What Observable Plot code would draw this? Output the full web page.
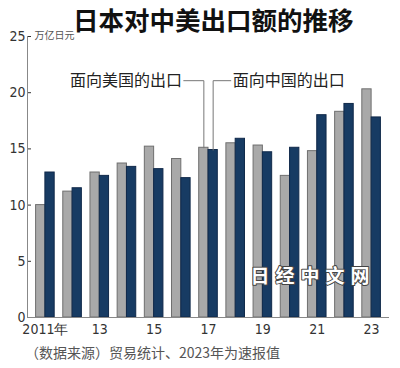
<!DOCTYPE html>
<html><head><meta charset="utf-8">
<script src="https://cdn.jsdelivr.net/npm/d3@7"></script>
<script src="https://cdn.jsdelivr.net/npm/@observablehq/plot@0.6"></script>
<style>
html,body{margin:0;padding:0;background:#fff;}
body{width:400px;height:368px;position:relative;overflow:hidden;font-family:"Noto Sans CJK SC",sans-serif;}
#chart{position:absolute;left:0;top:0;}
#title{position:absolute;left:73px;top:4px;line-height:29px;font-size:25.5px;font-weight:bold;color:#111;white-space:nowrap;}
#caption{position:absolute;left:25px;top:343px;line-height:18px;font-size:14px;color:#555;white-space:nowrap;}
</style></head><body>
<div id="chart"></div>
<div id="title">日本对中美出口额的推移</div>
<div id="caption">（数据来源）贸易统计、2023年为速报值</div>
<script>
const years = [2011,2012,2013,2014,2015,2016,2017,2018,2019,2020,2021,2022,2023];
const toUS = [10.0,11.2,12.9,13.7,15.2,14.1,15.1,15.5,15.3,12.6,14.8,18.3,20.3];
const toChina = [12.9,11.5,12.6,13.4,13.2,12.4,14.9,15.9,14.7,15.1,18.0,19.0,17.8];
const yTicks = [0,5,10,15,20,25];
const xTicks = [2011,2013,2015,2017,2019,2021,2023];
const unitLabel = "万亿日元";
const labelUS = "面向美国的出口";
const labelChina = "面向中国的出口";
const watermark = "日经中文网";

const half = 0.342;
const xDomain = [years[0] - 0.658, years[years.length - 1] + 0.658];
const rows = years.map((y, i) => ({year: y, us: toUS[i], china: toChina[i]}));
const iAnn = years.indexOf(2017);
const annY = 21.07;
const usLeader = [
  {x: 2016.09, y: annY},
  {x: 2017 - half / 2, y: annY},
  {x: 2017 - half / 2, y: toUS[iAnn]}
];
const cnLeader = [
  {x: 2017.82, y: annY},
  {x: 2017 + half / 2, y: annY},
  {x: 2017 + half / 2, y: toChina[iAnn]}
];
const cjk = '"Noto Sans CJK SC", sans-serif';

const plot = Plot.plot({
  width: 400, height: 345,
  marginLeft: 27, marginRight: 11, marginTop: 36, marginBottom: 28,
  style: {fontFamily: '"Liberation Sans Narrow", "DejaVu Sans Condensed", sans-serif', fontSize: "14px", color: "#333", background: "transparent"},
  x: {domain: xDomain, ticks: xTicks, tickFormat: d => d === 2011 ? "2011年" : String(d % 100), tickSize: 0, tickPadding: 7, label: null},
  y: {domain: [0, 25], ticks: yTicks, tickSize: -4, tickPadding: 6, label: null},
  marks: [
    Plot.rectY(rows, {x1: d => d.year - half, x2: "year", y1: 0, y2: "us", fill: "#a9a9a9", stroke: "#6f6f6f", strokeWidth: 1}),
    Plot.rectY(rows, {x1: "year", x2: d => d.year + half, y1: 0, y2: "china", fill: "#173b63", stroke: "#10294a", strokeWidth: 1}),
    Plot.ruleY([0], {stroke: "#888"}),
    Plot.ruleX([xDomain[0]], {stroke: "#888"}),
    Plot.line(usLeader, {x: "x", y: "y", stroke: "#777", strokeWidth: 1}),
    Plot.line(cnLeader, {x: "x", y: "y", stroke: "#777", strokeWidth: 1}),
    Plot.text([labelUS], {x: 2016.03, y: annY, textAnchor: "end", lineAnchor: "middle", fontFamily: cjk, fontSize: 16, fill: "#222"}),
    Plot.text([labelChina], {x: 2017.89, y: annY, textAnchor: "start", lineAnchor: "middle", fontFamily: cjk, fontSize: 16, fill: "#222"}),
    Plot.text([unitLabel], {frameAnchor: "top-left", dx: 7, dy: -1, textAnchor: "start", lineAnchor: "middle", fontFamily: cjk, fontSize: 10, fill: "#555"}),
    Plot.text([watermark], {frameAnchor: "bottom-right", dx: -14, dy: -41, textAnchor: "end", lineAnchor: "middle", fontFamily: cjk, fontSize: 19, fontWeight: "bold", fill: "white", stroke: "#444", strokeWidth: 2})
  ]
});
document.getElementById("chart").appendChild(plot);
d3.select(plot).selectAll("text").filter(function(){ return this.textContent === watermark; }).attr("letter-spacing", "6px").attr("paint-order", "stroke");
</script>
</body></html>
